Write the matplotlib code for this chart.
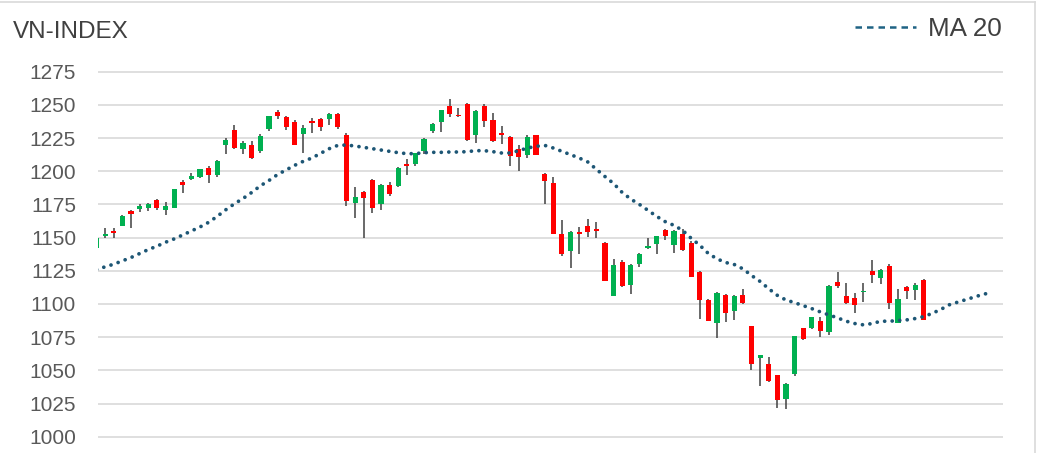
import numpy as np
import matplotlib.pyplot as plt
from matplotlib.lines import Line2D

plt.rcParams['font.family'] = ['Liberation Sans', 'DejaVu Sans']

# daily candles (open, high, low, close)
opens = [1142.5, 1151, 1155, 1159, 1170, 1171.5, 1172.5, 1178, 1171, 1172.5,
         1192, 1194.5, 1195.5, 1202.5, 1197, 1219.5, 1231, 1217, 1220, 1215.5,
         1232, 1245, 1241, 1237, 1228, 1238, 1239.5, 1239.5, 1243, 1227.5,
         1176, 1184.5, 1193.5, 1175, 1189.5, 1188.75, 1205.5, 1205.5, 1215.5, 1230.5,
         1237, 1249, 1242.75, 1251, 1227, 1249, 1238.75, 1229, 1226, 1216.5,
         1212.5, 1227, 1198, 1191, 1152.5, 1139.75, 1154, 1158.5, 1156.5, 1146.25,
         1106.25, 1131.5, 1114.5, 1130, 1142.5, 1145.5, 1155.5, 1144.5, 1153, 1145.75,
         1124.25, 1103, 1085.5, 1107, 1095, 1107, 1083.25, 1059.25, 1054.5, 1046.25,
         1028.25, 1047.5, 1081.75, 1081.75, 1087.5, 1079.25, 1116.75, 1106.25, 1104.25, 1108.75,
         1125, 1119.5, 1128.25, 1085.5, 1113, 1110.75, 1118.25]
highs = [1151, 1157.5, 1157.5, 1167, 1170.5, 1175, 1176, 1179, 1177, 1187,
         1193.5, 1199, 1202, 1204, 1208.5, 1225, 1234.5, 1223, 1222.5, 1228,
         1242, 1246, 1242, 1238.5, 1235, 1240, 1240, 1244, 1244, 1229,
         1188, 1185, 1194, 1190.5, 1192, 1203, 1209, 1214, 1225, 1236.5,
         1246.5, 1254.5, 1248, 1251.25, 1246, 1250.5, 1244, 1233.75, 1226.75, 1219.75,
         1227.5, 1227.5, 1199, 1195.5, 1163.5, 1155, 1158, 1164, 1161.75, 1146.5,
         1133.75, 1133, 1130, 1138.25, 1150, 1151.25, 1156.25, 1155.5, 1156.25, 1147.5,
         1125, 1103.5, 1108.75, 1107.5, 1106.75, 1111.25, 1083.5, 1061.5, 1060, 1046.5,
         1040.5, 1076, 1082, 1090.5, 1090, 1114, 1124.25, 1115.75, 1108.25, 1115.5,
         1133, 1126.25, 1130, 1111.25, 1113.75, 1115.75, 1118.75]
lows = [1141, 1150, 1149.5, 1158.5, 1157, 1169.5, 1170, 1171, 1167, 1172,
        1183.5, 1193.5, 1195, 1191, 1196, 1213, 1217, 1213, 1209, 1214,
        1230.5, 1239, 1231, 1220, 1213.5, 1229, 1230.5, 1235, 1232, 1174,
        1165, 1149.5, 1168.75, 1171, 1181, 1188, 1197.5, 1204, 1213, 1229,
        1229.75, 1241, 1240.5, 1223, 1221, 1233, 1222, 1220.5, 1204, 1200,
        1209.75, 1212, 1175, 1153, 1136.5, 1126.75, 1138, 1150.5, 1149.75, 1117,
        1106, 1112.5, 1107.5, 1127.5, 1141.75, 1138, 1148, 1138.75, 1140, 1120,
        1088.75, 1087, 1074.25, 1086.75, 1088.25, 1100, 1050, 1038, 1041.5, 1021.75,
        1020.5, 1045.75, 1072.5, 1081, 1075, 1076.25, 1112, 1100, 1093.25, 1101.75,
        1115.75, 1115, 1096.25, 1085.5, 1103.75, 1103.25, 1088]
closes = [1150, 1152.5, 1153.5, 1166, 1168, 1174, 1175, 1172, 1174, 1186.75,
          1190, 1196.5, 1201.5, 1197, 1208, 1223.5, 1217.5, 1221, 1210, 1226.5,
          1241.5, 1242, 1233.5, 1220, 1232.5, 1236.5, 1233, 1243.5, 1233, 1177.5,
          1180.5, 1180, 1172.5, 1190, 1182.5, 1202.5, 1204, 1213.5, 1224.5, 1235.5,
          1246, 1243, 1241.25, 1223.5, 1245.5, 1238, 1223, 1227.5, 1211.5, 1211,
          1226, 1212.5, 1192.5, 1153, 1138, 1154.5, 1152.5, 1154.25, 1155, 1117.5,
          1129.25, 1113.25, 1129.25, 1137.75, 1144, 1151, 1151.25, 1155, 1140.75, 1120.5,
          1103, 1087.5, 1108.25, 1093.25, 1106.25, 1100.75, 1055, 1061.25, 1042, 1028,
          1040, 1075.75, 1073.25, 1090, 1080, 1113.75, 1113.25, 1100.75, 1099.5, 1110,
          1122, 1125.75, 1100.75, 1103.75, 1110, 1114.5, 1088.25]

# 20-day moving average (runs a few sessions past the last candle)
ma20 = [1126, 1128, 1130, 1132.5, 1135, 1138, 1141, 1143.5, 1146.5, 1149,
        1152, 1155, 1158, 1161.5, 1166, 1171, 1175.5, 1179.5, 1184, 1189,
        1193, 1197.5, 1201, 1204.5, 1207.5, 1210, 1213.5, 1217, 1219.5, 1219.75,
        1219, 1218, 1217, 1216, 1215, 1214, 1213.25, 1213.25, 1214, 1214.25,
        1214.25, 1214.5, 1214.5, 1214.75, 1215.5, 1215.5, 1214.75, 1213.75, 1213.75, 1215.5,
        1217.5, 1218.75, 1219.5, 1217.5, 1215, 1212.5, 1210, 1207, 1201.5, 1196,
        1190.75, 1184, 1179, 1175, 1170.5, 1166, 1162, 1159.25, 1155.5, 1149.5,
        1144.25, 1138, 1134, 1131.25, 1129.75, 1126.5, 1121.5, 1117, 1111.5, 1106.5,
        1103, 1101, 1098.75, 1096.5, 1094, 1091.75, 1089.5, 1087, 1085.25, 1084.25,
        1085.25, 1087, 1087, 1087.5, 1088, 1089, 1090.5, 1093, 1096, 1099.5,
        1101.5, 1103.5, 1105.5, 1107.5, 1108.5]

yticks = [1000, 1025, 1050, 1075, 1100, 1125, 1150, 1175, 1200, 1225, 1250, 1275]

W, H = 1043, 453
fig = plt.figure(figsize=(W / 100, H / 100), dpi=100)

# plot area placed in pixels: x 98..1003, y 1000 at 436.7, 1275 at 71.7
ppt = (436.7 - 71.7) / 275.0
ymin, ymax = 997, 1278
top_px = 71.7 - (ymax - 1275) * ppt
bot_px = 436.7 + (1000 - ymin) * ppt
ax = fig.add_axes([98.3 / W, 1 - bot_px / H, (1003 - 98.3) / W, (bot_px - top_px) / H])
ax.set_ylim(ymin, ymax)
step = 8.617
ax.set_xlim(0.2, 0.2 + (1003 - 98.3) / step)

ax.set_yticks(yticks)
ax.set_xticks([])
ax.grid(axis='y', color='#d9d9d9', linewidth=1.2)
ax.set_axisbelow(True)
for s in ax.spines.values():
    s.set_visible(False)
ax.tick_params(axis='y', length=0, pad=16, labelsize=15, labelcolor='#595959')

idx = np.arange(len(opens))
o = np.array(opens)
c = np.array(closes)
colors = np.where(c >= o, '#00b050', '#ff0000')
bottom = np.minimum(o, c)
height = np.maximum(np.abs(c - o), 1.3)

ax.vlines(idx, lows, highs, color='#404040', linewidth=1.1, zorder=2)
ax.bar(idx, height, bottom=bottom, width=0.6, color=colors, zorder=3)

ax.plot(np.arange(len(ma20)), ma20, color='#1d5675', linewidth=2.7,
        linestyle=(0, (0.01, 2.0)), dash_capstyle='round', zorder=4)

# title and legend
fig.text(13 / W, 1 - 38.3 / H, 'VN-INDEX', fontsize=17.5, color='#404040', va='baseline')
fig.add_artist(Line2D([855 / W, 916 / W], [1 - 27 / H, 1 - 27 / H], color='#1f6384',
                      linewidth=1.8, linestyle=(0, (2.6, 2.0))))
fig.text(928 / W, 1 - 35.5 / H, 'MA 20', fontsize=18.7, color='#404040', va='baseline')

# chart border (top and right edges)
fig.add_artist(Line2D([0, 1035 / W], [1 - 1.5 / H, 1 - 1.5 / H], color='#d9d9d9', linewidth=1.2))
fig.add_artist(Line2D([1035 / W, 1035 / W], [0, 1 - 1.5 / H], color='#d9d9d9', linewidth=1.2))

fig.savefig('out.png', dpi=100)
